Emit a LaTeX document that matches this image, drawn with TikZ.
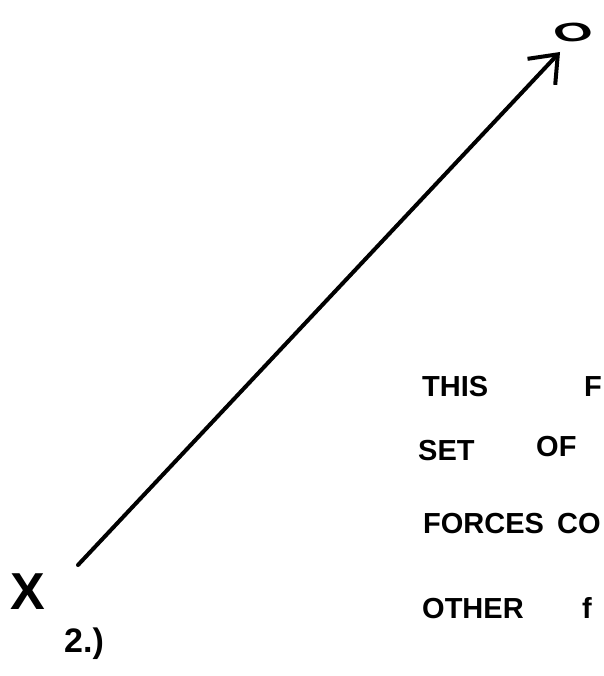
\documentclass[tikz,border=0pt]{standalone}
\usepackage{fontspec}
\setmainfont{Liberation Sans}
\usetikzlibrary{arrows.meta,positioning}
\tikzset{
  pen/.style={line width=4pt,line cap=round,line join=round},
  vec edge/.style={pen,-{Straight Barb[length=24pt,width=38pt,line width=4pt]}},
  mark node/.style={inner sep=0pt,font=\fontsize{52}{58}\selectfont\bfseries},
  note word/.style={anchor=base west,inner sep=0pt,font=\fontsize{29}{33}\selectfont\bfseries},
}

\begin{document}
\begin{tikzpicture}[x=1pt,y=-1pt]
  \useasboundingbox (0,0) rectangle (603,676);
  \node[mark node] (xmark) at (28,592) {X};
  \node[mark node,font=\fontsize{44}{48}\selectfont\bfseries,xscale=1.15,yscale=0.6,rotate=12] (omark) at (573,32) {O};
  \node[anchor=north west,inner sep=0pt,font=\fontsize{34}{38}\selectfont\bfseries] (step) at (64,628) {2.)};
  \coordinate (tail) at (78,565);
  \coordinate (head) at (560,52);
  \draw[vec edge] (tail) -- (head);
  % note, cut at the right edge
  \node[note word] (w1) at (422,396) {THIS};
  \node[note word] (w2) at (584,396) {F};
  \node[note word] (w3) at (418,460) {SET};
  \node[note word] (w4) at (536,456) {OF};
  \node[note word] (w5) at (423,533) {FORCES};
  \node[note word] (w6) at (557,533) {CO};
  \node[note word] (w7) at (422,618) {OTHER};
  \node[note word] (w8) at (582,618) {f};
\end{tikzpicture}
\end{document}
